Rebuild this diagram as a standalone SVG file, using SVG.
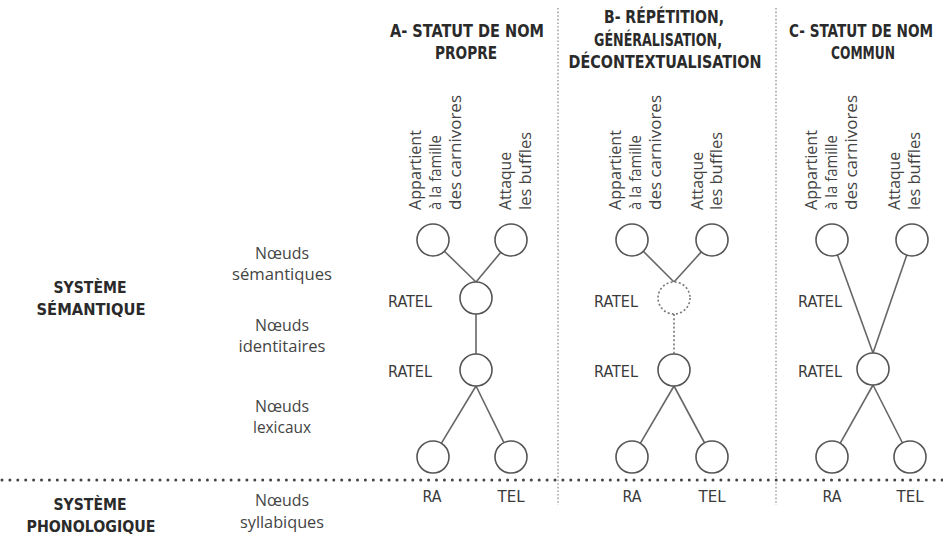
<svg xmlns="http://www.w3.org/2000/svg" width="943" height="536" viewBox="0 0 943 536">
  <style>
    .hdr { font-family: "DejaVu Sans Condensed", "DejaVu Sans", sans-serif; font-weight: bold; font-size: 17.5px; fill: #2a2a2a; text-anchor: middle; }
    .sys { font-family: "DejaVu Sans Condensed", "DejaVu Sans", sans-serif; font-weight: bold; font-size: 16.5px; fill: #2a2a2a; text-anchor: middle; }
    .lvl { font-family: "Open Sans", "Noto Sans", sans-serif; font-size: 16px; fill: #444; text-anchor: middle; }
    .word { font-family: "DejaVu Sans Condensed", "DejaVu Sans", sans-serif; font-size: 16px; fill: #3a3a3a; }
    .feat { font-family: "Open Sans", "Noto Sans", sans-serif; font-size: 17px; fill: #444; }
    .node { fill: #fff; stroke: #555; stroke-width: 1.6; }
    .ghost { fill: #fff; stroke: #777; stroke-width: 1.6; stroke-dasharray: 2 2.2; }
    .edge { stroke: #666; stroke-width: 1.6; fill: none; }
    .dotted { stroke: #777; stroke-width: 1.6; stroke-dasharray: 2 2.2; fill: none; }
    .sep { stroke: #999; stroke-width: 1.4; stroke-dasharray: 1.6 2; fill: none; }
    .rule { stroke: #444; stroke-width: 3; stroke-dasharray: 0 7.9; stroke-linecap: round; fill: none; }
  </style>

  <!-- column separators and system boundary -->
  <g id="separators">
    <line class="sep" x1="558" y1="8" x2="558" y2="505"/>
    <line class="sep" x1="776" y1="8" x2="776" y2="505"/>
    <line class="rule" x1="2" y1="480" x2="943" y2="480"/>
  </g>

  <!-- column headings -->
  <g id="headings">
    <text class="hdr" x="467" y="37" textLength="154" lengthAdjust="spacingAndGlyphs">A- STATUT DE NOM</text>
    <text class="hdr" x="466" y="59" textLength="62" lengthAdjust="spacingAndGlyphs">PROPRE</text>
    <text class="hdr" x="664" y="23" textLength="120" lengthAdjust="spacingAndGlyphs">B- RÉPÉTITION,</text>
    <text class="hdr" x="658" y="46" textLength="128" lengthAdjust="spacingAndGlyphs">GÉNÉRALISATION,</text>
    <text class="hdr" x="665" y="68" textLength="193" lengthAdjust="spacingAndGlyphs">DÉCONTEXTUALISATION</text>
    <text class="hdr" x="861" y="37" textLength="144" lengthAdjust="spacingAndGlyphs">C- STATUT DE NOM</text>
    <text class="hdr" x="863" y="59" textLength="64" lengthAdjust="spacingAndGlyphs">COMMUN</text>
  </g>

  <!-- system labels -->
  <g id="systems">
    <text class="sys" x="90" y="293" textLength="73" lengthAdjust="spacingAndGlyphs">SYSTÈME</text>
    <text class="sys" x="91" y="315" textLength="109" lengthAdjust="spacingAndGlyphs">SÉMANTIQUE</text>
    <text class="sys" x="90" y="510" textLength="73" lengthAdjust="spacingAndGlyphs">SYSTÈME</text>
    <text class="sys" x="91" y="532" textLength="129" lengthAdjust="spacingAndGlyphs">PHONOLOGIQUE</text>
  </g>

  <!-- level labels -->
  <g id="levels">
    <text class="lvl" x="282" y="259" textLength="54" lengthAdjust="spacingAndGlyphs">Nœuds</text>
    <text class="lvl" x="282" y="280" textLength="100" lengthAdjust="spacingAndGlyphs">sémantiques</text>
    <text class="lvl" x="282" y="331" textLength="54" lengthAdjust="spacingAndGlyphs">Nœuds</text>
    <text class="lvl" x="282" y="352" textLength="87" lengthAdjust="spacingAndGlyphs">identitaires</text>
    <text class="lvl" x="282" y="412" textLength="54" lengthAdjust="spacingAndGlyphs">Nœuds</text>
    <text class="lvl" x="282" y="433" textLength="58" lengthAdjust="spacingAndGlyphs">lexicaux</text>
    <text class="lvl" x="282" y="506" textLength="54" lengthAdjust="spacingAndGlyphs">Nœuds</text>
    <text class="lvl" x="282" y="528" textLength="84" lengthAdjust="spacingAndGlyphs">syllabiques</text>
  </g>

  <!-- connectors -->
  <g id="connectors">
    <!-- A -->
    <line class="edge" x1="444.4" y1="251.2" x2="476" y2="282"/>
    <line class="edge" x1="500.8" y1="252.3" x2="476" y2="282"/>
    <line class="edge" x1="476" y1="314" x2="476" y2="354"/>
    <line class="edge" x1="476" y1="386" x2="441.3" y2="443.3"/>
    <line class="edge" x1="476" y1="386" x2="503.9" y2="442.7"/>
    <!-- B -->
    <line class="edge" x1="643.3" y1="251.3" x2="674" y2="282"/>
    <line class="edge" x1="701.3" y1="251.9" x2="674" y2="282"/>
    <line class="dotted" x1="674" y1="314" x2="674" y2="354"/>
    <line class="edge" x1="674" y1="386" x2="640.3" y2="443.3"/>
    <line class="edge" x1="674" y1="386" x2="704.6" y2="443"/>
    <!-- C -->
    <line class="edge" x1="837.5" y1="255" x2="873" y2="353"/>
    <line class="edge" x1="906.8" y1="255.1" x2="873" y2="353"/>
    <line class="edge" x1="873" y1="385" x2="840.3" y2="443.2"/>
    <line class="edge" x1="873" y1="385" x2="902.5" y2="443"/>
  </g>

  <!-- column A nodes -->
  <g id="a-feature-famille">
    <circle class="node" cx="433" cy="240" r="16"/>
    <g class="feat">
      <text transform="translate(421 210) rotate(-90)" textLength="80" lengthAdjust="spacingAndGlyphs">Appartient</text>
      <text transform="translate(441 210) rotate(-90)" textLength="75" lengthAdjust="spacingAndGlyphs">à la famille</text>
      <text transform="translate(461 210) rotate(-90)" textLength="115" lengthAdjust="spacingAndGlyphs">des carnivores</text>
    </g>
  </g>
  <g id="a-feature-buffles">
    <circle class="node" cx="511" cy="240" r="16"/>
    <g class="feat">
      <text transform="translate(511 210) rotate(-90)" textLength="58" lengthAdjust="spacingAndGlyphs">Attaque</text>
      <text transform="translate(531 210) rotate(-90)" textLength="78" lengthAdjust="spacingAndGlyphs">les buffles</text>
    </g>
  </g>
  <g id="a-semantic-ratel">
    <circle class="node" cx="476" cy="298" r="16"/>
    <text class="word" x="432" y="307" text-anchor="end" textLength="44" lengthAdjust="spacingAndGlyphs">RATEL</text>
  </g>
  <g id="a-identity-ratel">
    <circle class="node" cx="476" cy="370" r="16"/>
    <text class="word" x="432" y="377" text-anchor="end" textLength="44" lengthAdjust="spacingAndGlyphs">RATEL</text>
  </g>
  <g id="a-lexical-ra">
    <circle class="node" cx="433" cy="457" r="16"/>
    <text class="word" x="432" y="502" text-anchor="middle" textLength="19" lengthAdjust="spacingAndGlyphs">RA</text>
  </g>
  <g id="a-lexical-tel">
    <circle class="node" cx="511" cy="457" r="16"/>
    <text class="word" x="511" y="502" text-anchor="middle" textLength="27" lengthAdjust="spacingAndGlyphs">TEL</text>
  </g>

  <!-- column B nodes -->
  <g id="b-feature-famille">
    <circle class="node" cx="632" cy="240" r="16"/>
    <g class="feat">
      <text transform="translate(621 210) rotate(-90)" textLength="80" lengthAdjust="spacingAndGlyphs">Appartient</text>
      <text transform="translate(641 210) rotate(-90)" textLength="75" lengthAdjust="spacingAndGlyphs">à la famille</text>
      <text transform="translate(661 210) rotate(-90)" textLength="115" lengthAdjust="spacingAndGlyphs">des carnivores</text>
    </g>
  </g>
  <g id="b-feature-buffles">
    <circle class="node" cx="712" cy="240" r="16"/>
    <g class="feat">
      <text transform="translate(703 210) rotate(-90)" textLength="58" lengthAdjust="spacingAndGlyphs">Attaque</text>
      <text transform="translate(722 210) rotate(-90)" textLength="78" lengthAdjust="spacingAndGlyphs">les buffles</text>
    </g>
  </g>
  <g id="b-semantic-ratel">
    <circle class="ghost" cx="674" cy="298" r="16"/>
    <text class="word" x="638" y="307" text-anchor="end" textLength="44" lengthAdjust="spacingAndGlyphs">RATEL</text>
  </g>
  <g id="b-identity-ratel">
    <circle class="node" cx="674" cy="370" r="16"/>
    <text class="word" x="638" y="377" text-anchor="end" textLength="44" lengthAdjust="spacingAndGlyphs">RATEL</text>
  </g>
  <g id="b-lexical-ra">
    <circle class="node" cx="632" cy="457" r="16"/>
    <text class="word" x="632" y="502" text-anchor="middle" textLength="19" lengthAdjust="spacingAndGlyphs">RA</text>
  </g>
  <g id="b-lexical-tel">
    <circle class="node" cx="712" cy="457" r="16"/>
    <text class="word" x="712" y="502" text-anchor="middle" textLength="27" lengthAdjust="spacingAndGlyphs">TEL</text>
  </g>

  <!-- column C nodes -->
  <g id="c-feature-famille">
    <circle class="node" cx="832" cy="240" r="16"/>
    <g class="feat">
      <text transform="translate(817 210) rotate(-90)" textLength="80" lengthAdjust="spacingAndGlyphs">Appartient</text>
      <text transform="translate(837 210) rotate(-90)" textLength="75" lengthAdjust="spacingAndGlyphs">à la famille</text>
      <text transform="translate(857 210) rotate(-90)" textLength="115" lengthAdjust="spacingAndGlyphs">des carnivores</text>
    </g>
  </g>
  <g id="c-feature-buffles">
    <circle class="node" cx="912" cy="240" r="16"/>
    <g class="feat">
      <text transform="translate(900 210) rotate(-90)" textLength="58" lengthAdjust="spacingAndGlyphs">Attaque</text>
      <text transform="translate(920 210) rotate(-90)" textLength="78" lengthAdjust="spacingAndGlyphs">les buffles</text>
    </g>
  </g>
  <g id="c-semantic-ratel">
    <text class="word" x="842" y="307" text-anchor="end" textLength="44" lengthAdjust="spacingAndGlyphs">RATEL</text>
  </g>
  <g id="c-identity-ratel">
    <circle class="node" cx="873" cy="369" r="16"/>
    <text class="word" x="842" y="377" text-anchor="end" textLength="44" lengthAdjust="spacingAndGlyphs">RATEL</text>
  </g>
  <g id="c-lexical-ra">
    <circle class="node" cx="832" cy="457" r="16"/>
    <text class="word" x="832" y="502" text-anchor="middle" textLength="19" lengthAdjust="spacingAndGlyphs">RA</text>
  </g>
  <g id="c-lexical-tel">
    <circle class="node" cx="910" cy="457" r="16"/>
    <text class="word" x="910" y="502" text-anchor="middle" textLength="27" lengthAdjust="spacingAndGlyphs">TEL</text>
  </g>
</svg>
